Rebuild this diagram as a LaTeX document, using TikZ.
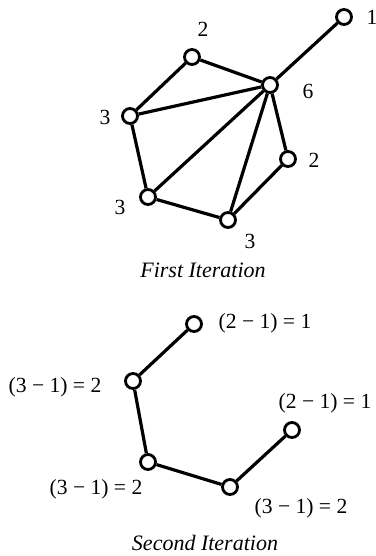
\documentclass[tikz,border=0pt]{standalone}
\usepackage{fontspec}
\setmainfont{Liberation Serif}
\usetikzlibrary{positioning}
\tikzset{
  vertex/.style={circle, draw, line width=1.4pt, fill=white,
    minimum size=7.5pt, inner sep=0pt},
  edge/.style={line width=1.6pt},
  degree/.style={font=\fontsize{10.8}{12}\selectfont, inner sep=0pt},
  caption/.style={font=\itshape\fontsize{11}{13}\selectfont, inner sep=0pt}
}

\begin{document}
\begin{tikzpicture}[x=0.5pt, y=-0.5pt]
        \useasboundingbox (0,0) rectangle (375,556);
        % first iteration
        \node[vertex] (hub) at (270,85) {};
        \node[vertex] (leaf) at (344,17) {};
        \node[vertex] (top) at (192,57) {};
        \node[vertex] (left) at (130,116) {};
        \node[vertex] (lowleft) at (148,197) {};
        \node[vertex] (bottom) at (228,220) {};
        \node[vertex] (right) at (288,159) {};
        \draw[edge] (hub) -- (leaf);
        \draw[edge] (hub) -- (top);
        \draw[edge] (top) -- (left);
        \draw[edge] (left) -- (hub);
        \draw[edge] (left) -- (lowleft);
        \draw[edge] (lowleft) -- (hub);
        \draw[edge] (lowleft) -- (bottom);
        \draw[edge] (bottom) -- (hub);
        \draw[edge] (bottom) -- (right);
        \draw[edge] (right) -- (hub);
        \node[degree] (dhub) at (308,91) {6};
        \node[degree] (dleaf) at (372,17) {1};
        \node[degree] (dtop) at (203,29) {2};
        \node[degree] (dleft) at (105,117) {3};
        \node[degree] (dlowleft) at (120,207) {3};
        \node[degree] (dbottom) at (250,241) {3};
        \node[degree] (dright) at (314,160) {2};
        \node[caption] (first) at (203,270) {First Iteration};
        % second iteration
        \node[vertex] (top2) at (194,324) {};
        \node[vertex] (left2) at (133,381) {};
        \node[vertex] (lowleft2) at (148,462) {};
        \node[vertex] (bottom2) at (230,487) {};
        \node[vertex] (right2) at (292,430) {};
        \draw[edge] (top2) -- (left2);
        \draw[edge] (left2) -- (lowleft2);
        \draw[edge] (lowleft2) -- (bottom2);
        \draw[edge] (bottom2) -- (right2);
        \node[degree] (dtop2) at (265,323) {(2 − 1) = 1};
        \node[degree] (dleft2) at (55,387) {(3 − 1) = 2};
        \node[degree] (dright2) at (325,403) {(2 − 1) = 1};
        \node[degree] (dlowleft2) at (96,489) {(3 − 1) = 2};
        \node[degree] (dbottom2) at (301,508) {(3 − 1) = 2};
        \node[caption] (second) at (205,543) {Second Iteration};
    \end{tikzpicture}
\end{document}
